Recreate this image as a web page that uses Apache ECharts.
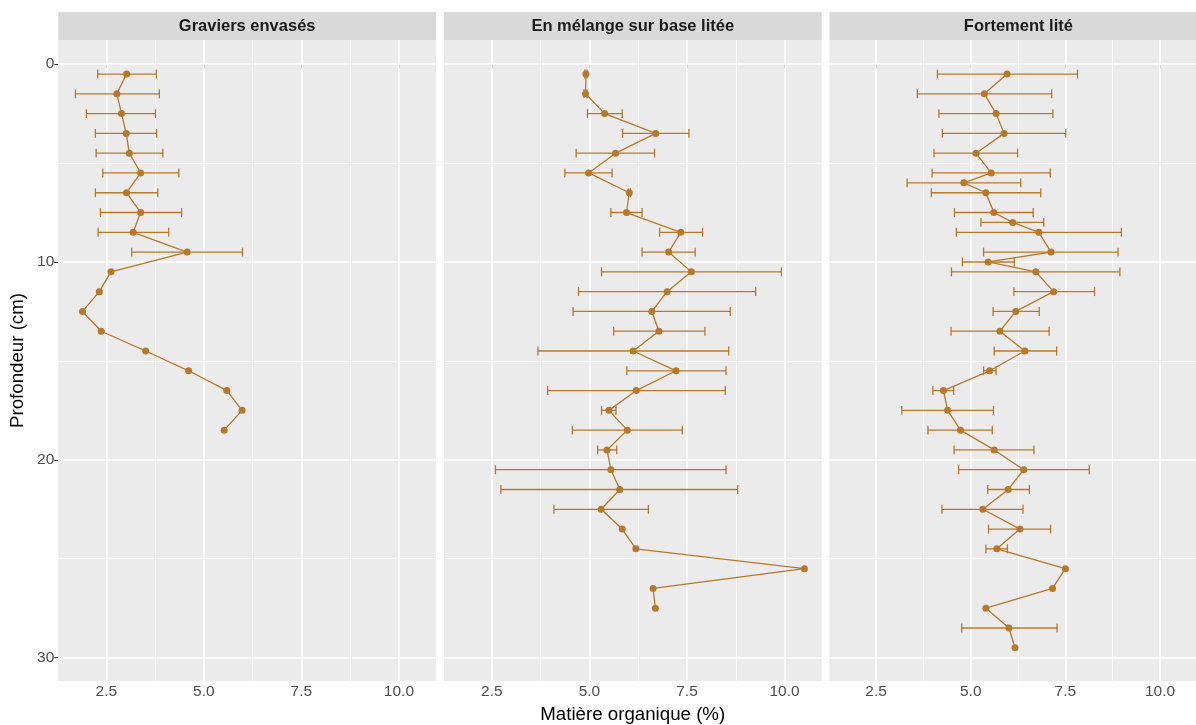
<!DOCTYPE html>
<html>
<head>
<meta charset="utf-8">
<script src="https://cdn.jsdelivr.net/npm/echarts@6/dist/echarts.min.js"></script>
<style>
html,body{margin:0;padding:0;background:#fff;}
#chart{width:1196px;height:725px;}
</style>
</head>
<body>
<div id="chart"></div>
<script>
// ---------- DATA ----------
const panelTitles = ['Graviers envasés', 'En mélange sur base litée', 'Fortement lité'];

const depth1 = [0.5,1.5,2.5,3.5,4.5,5.5,6.5,7.5,8.5,9.5,10.5,11.5,12.5,13.5,14.5,15.5,16.5,17.5,18.5];
const om1    = [3.02,2.77,2.89,3.01,3.09,3.38,3.02,3.38,3.19,4.57,2.62,2.32,1.89,2.37,3.51,4.61,5.59,5.98,5.52];
const lo1    = [2.28,1.71,1.99,2.22,2.24,2.41,2.22,2.35,2.29,3.15,null,null,null,null,null,null,null,null,null];
const hi1    = [3.78,3.86,3.76,3.79,3.95,4.36,3.82,4.43,4.10,5.99,null,null,null,null,null,null,null,null,null];

const depth2 = [0.5,1.5,2.5,3.5,4.5,5.5,6.5,7.5,8.5,9.5,10.5,11.5,12.5,13.5,14.5,15.5,16.5,17.5,18.5,19.5,20.5,21.5,22.5,23.5,24.5,25.5,26.5,27.5];
const om2    = [4.91,4.90,5.39,6.70,5.67,4.98,6.02,5.95,7.34,7.03,7.61,6.99,6.60,6.78,6.12,7.22,6.20,5.50,5.97,5.45,5.55,5.78,5.30,5.84,6.19,10.51,6.63,6.69];
const lo2    = [4.88,4.86,4.95,5.85,4.66,4.37,6.00,5.55,6.80,6.35,5.31,4.72,4.58,5.62,3.68,5.96,3.93,5.31,4.56,5.21,2.59,2.73,4.09,null,null,null,null,null];
const hi2    = [4.94,4.94,5.84,7.55,6.67,5.58,6.05,6.35,7.90,7.71,9.92,9.26,8.61,7.96,8.57,8.50,8.48,5.68,7.38,5.70,8.50,8.80,6.51,null,null,null,null,null];

const depth3 = [0.5,1.5,2.5,3.5,4.5,5.5,6.0,6.5,7.5,8.0,8.5,9.5,10.0,10.5,11.5,12.5,13.5,14.5,15.5,16.5,17.5,18.5,19.5,20.5,21.5,22.5,23.5,24.5,25.5,26.5,27.5,28.5,29.5];
const om3    = [5.96,5.36,5.67,5.88,5.14,5.54,4.82,5.40,5.61,6.11,6.80,7.12,5.46,6.72,7.19,6.19,5.77,6.43,5.50,4.28,4.39,4.73,5.62,6.40,5.99,5.32,6.30,5.69,7.50,7.16,5.40,6.01,6.17];
const lo3    = [4.12,3.59,4.16,4.25,4.03,3.98,3.32,3.96,4.57,5.27,4.62,5.34,4.78,4.49,6.14,5.59,4.48,5.62,5.34,4.00,3.18,3.87,4.56,4.68,5.45,4.24,5.47,5.40,null,null,null,4.76,null];
const hi3    = [7.82,7.14,7.17,7.51,6.24,7.10,6.32,6.85,6.65,6.93,8.98,8.89,6.15,8.94,8.27,6.81,7.07,7.27,5.67,4.55,5.60,5.57,6.67,8.13,6.55,6.38,7.11,5.97,null,null,null,7.28,null];

const xTicks = [2.5, 5.0, 7.5, 10.0];
const xMinor = [3.75, 6.25, 8.75];
const yTicks = [0, 10, 20, 30];
const yMinor = [5, 15, 25];

// ---------- LAYOUT / STYLE ----------
const X_MIN = 1.27, X_MAX = 10.95;
const Y_MIN = -1.22, Y_MAX = 31.18;
const CAP = 0.225;
const COLOR = '#B8782A';
const FONT = "'Liberation Sans', Arial, sans-serif";
const gridLefts = [58.3, 443.9, 829.5];
const gridW = 377.7;
const gridTop = 40, gridH = 641;
const stripTop = 12, stripH = 28;

const panels = [
  {depth: depth1, om: om1, lo: lo1, hi: hi1},
  {depth: depth2, om: om2, lo: lo2, hi: hi2},
  {depth: depth3, om: om3, lo: lo3, hi: hi3}
];

const grids = [], xAxes = [], yAxes = [], series = [], graphics = [];

panels.forEach((p, i) => {
  grids.push({left: gridLefts[i], top: gridTop, width: gridW, height: gridH,
    show: true, backgroundColor: '#EBEBEB', borderWidth: 0, containLabel: false});
  xAxes.push({
    type: 'value', gridIndex: i, min: X_MIN, max: X_MAX,
    axisLine: {show: false},
    axisTick: {show: true, length: 4, lineStyle: {color: '#333333', width: 1}, customValues: xTicks},
    axisLabel: {show: true, customValues: xTicks, formatter: v => Number(v).toFixed(1),
      color: '#4D4D4D', fontSize: 15.5, fontFamily: FONT, margin: 3},
    splitLine: {show: false}
  });
  yAxes.push({
    type: 'value', gridIndex: i, min: Y_MIN, max: Y_MAX, inverse: true,
    axisLine: {show: false},
    axisTick: {show: i === 0, length: 4, lineStyle: {color: '#333333', width: 1}, customValues: yTicks},
    axisLabel: {show: i === 0, customValues: yTicks, formatter: v => String(v),
      color: '#4D4D4D', fontSize: 15.5, fontFamily: FONT, margin: 4},
    splitLine: {show: false}
  });
  // grid lines (drawn through the axes as mark lines, under the data)
  const ml = [];
  xMinor.forEach(v => ml.push({xAxis: v, lineStyle: {color: '#FFFFFF', width: 0.8, type: 'solid'}}));
  yMinor.forEach(v => ml.push({yAxis: v, lineStyle: {color: '#FFFFFF', width: 0.8, type: 'solid'}}));
  xTicks.forEach(v => ml.push({xAxis: v, lineStyle: {color: '#FFFFFF', width: 1.6, type: 'solid'}}));
  yTicks.forEach(v => ml.push({yAxis: v, lineStyle: {color: '#FFFFFF', width: 1.6, type: 'solid'}}));
  series.push({
    type: 'line', xAxisIndex: i, yAxisIndex: i, data: [], z: 1, silent: true,
    markLine: {silent: true, z: 1, symbol: ['none', 'none'], label: {show: false},
      emphasis: {disabled: true}, animation: false, data: ml}
  });
  // error bars
  const eb = [];
  p.depth.forEach((d, k) => { if (p.lo[k] != null && p.hi[k] != null) eb.push([p.lo[k], p.hi[k], d]); });
  series.push({
    type: 'custom', xAxisIndex: i, yAxisIndex: i, z: 3, silent: true,
    encode: {x: [0, 1], y: 2},
    data: eb,
    renderItem: function (params, api) {
      const lo = api.value(0), hi = api.value(1), d = api.value(2);
      const a = api.coord([lo, d]), b = api.coord([hi, d]);
      const c1 = api.coord([lo, d - CAP]), c2 = api.coord([lo, d + CAP]);
      const c3 = api.coord([hi, d - CAP]), c4 = api.coord([hi, d + CAP]);
      const st = {stroke: COLOR, lineWidth: 1.3, fill: null};
      return {type: 'group', children: [
        {type: 'line', shape: {x1: a[0], y1: a[1], x2: b[0], y2: b[1]}, style: st},
        {type: 'line', shape: {x1: c1[0], y1: c1[1], x2: c2[0], y2: c2[1]}, style: st},
        {type: 'line', shape: {x1: c3[0], y1: c3[1], x2: c4[0], y2: c4[1]}, style: st}
      ]};
    }
  });
  // path + points
  series.push({
    type: 'line', xAxisIndex: i, yAxisIndex: i, z: 4, silent: true,
    data: p.depth.map((d, k) => [p.om[k], d]),
    symbol: 'circle', symbolSize: 7, showSymbol: true,
    itemStyle: {color: COLOR}, lineStyle: {color: COLOR, width: 1.3},
    emphasis: {disabled: true}
  });
  // strip
  graphics.push({type: 'rect', left: gridLefts[i], top: stripTop,
    shape: {width: gridW, height: stripH}, style: {fill: '#D9D9D9'}, z: 0});
  graphics.push({type: 'text', x: gridLefts[i] + gridW / 2, y: stripTop + stripH / 2,
    style: {text: panelTitles[i], fill: '#1A1A1A', font: 'bold 16.5px ' + FONT,
      textAlign: 'center', textVerticalAlign: 'middle'}, z: 1});
});

graphics.push({type: 'text', x: (gridLefts[0] + gridLefts[2] + gridW) / 2, y: 715,
  style: {text: 'Matière organique (%)', fill: '#000000', font: '18.7px ' + FONT,
    textAlign: 'center', textVerticalAlign: 'middle'}});
graphics.push({type: 'text', x: 18, y: gridTop + gridH / 2, rotation: Math.PI / 2,
  style: {text: 'Profondeur (cm)', fill: '#000000', font: '18.7px ' + FONT,
    textAlign: 'center', textVerticalAlign: 'middle'}});

const chart = echarts.init(document.getElementById('chart'), null, {renderer: 'canvas'});
chart.setOption({
  animation: false,
  backgroundColor: '#FFFFFF',
  grid: grids, xAxis: xAxes, yAxis: yAxes, series: series, graphic: graphics
});
</script>
</body>
</html>
